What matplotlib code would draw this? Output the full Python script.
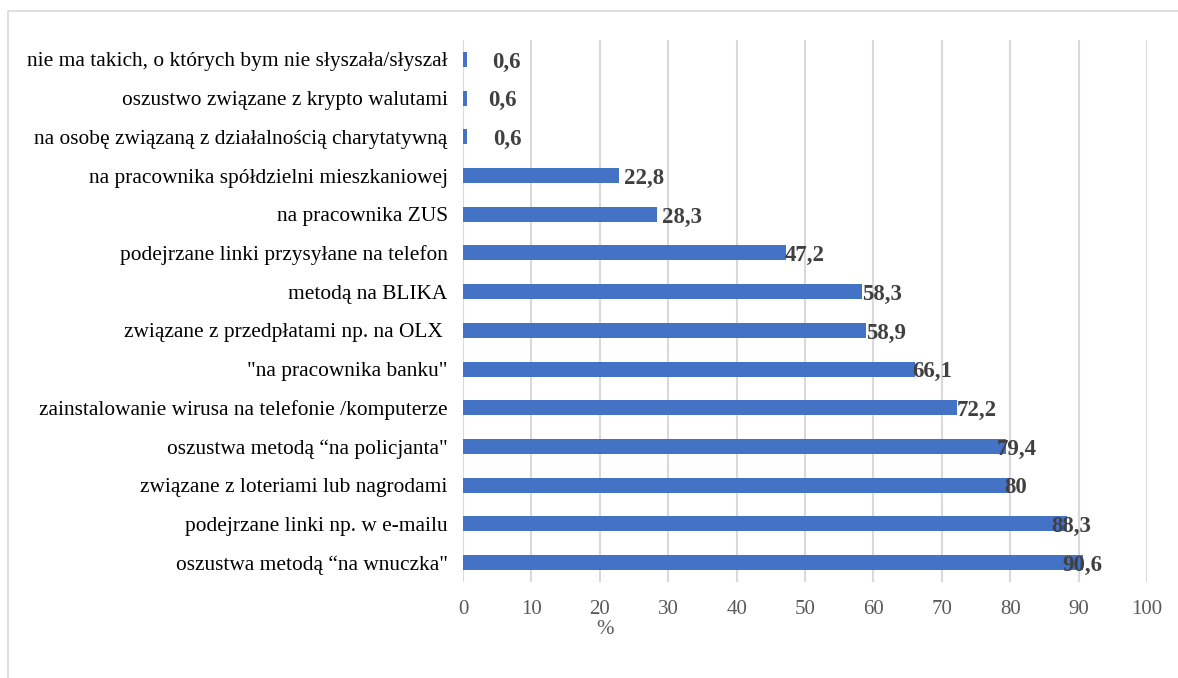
import matplotlib.pyplot as plt
from matplotlib.patches import Rectangle

plt.rcParams['font.family'] = ['Liberation Serif', 'DejaVu Serif']

# data, top to bottom as in the chart
categories = [
    "nie ma takich, o których bym nie słyszała/słyszał",
    "oszustwo związane z krypto walutami",
    "na osobę związaną z działalnością charytatywną",
    "na pracownika spółdzielni mieszkaniowej",
    "na pracownika ZUS",
    "podejrzane linki przysyłane na telefon",
    "metodą na BLIKA",
    "związane z przedpłatami np. na OLX ",
    "\"na pracownika banku\"",
    "zainstalowanie wirusa na telefonie /komputerze",
    "oszustwa metodą “na policjanta\"",
    "związane z loteriami lub nagrodami",
    "podejrzane linki np. w e-mailu",
    "oszustwa metodą “na wnuczka\"",
]
values = [0.6, 0.6, 0.6, 22.8, 28.3, 47.2, 58.3, 58.9, 66.1, 72.2, 79.4, 80, 88.3, 90.6]
value_labels = ["0,6", "0,6", "0,6", "22,8", "28,3", "47,2", "58,3", "58,9",
                "66,1", "72,2", "79,4", "80", "88,3", "90,6"]
# label shift from bar end, in points
label_dx = [18, 15, 19, 4, 4, -1, 0, 0, -2, 0, -7, -4, -11, -15]

fig = plt.figure(figsize=(11.78, 6.78), dpi=100)
ax = fig.add_axes([0.393, 0.1416, 0.5807, 0.7994])

ypos = list(range(len(categories)))
ax.barh(ypos, values, height=0.39, color="#4472C4", zorder=2)
ax.set_ylim(len(categories) - 0.5, -0.5)
ax.set_xlim(0, 100)
ax.set_xticks(range(0, 101, 10))
ax.set_yticks(ypos)
ax.set_yticklabels(categories, fontsize=15.4, color="black")
ax.tick_params(axis='x', labelsize=15, labelcolor="#595959", length=0, pad=13)
ax.tick_params(axis='y', length=0, pad=11)
ax.grid(axis='x', color="#d9d9d9", linewidth=1.5, zorder=0)
for s in ax.spines.values():
    s.set_visible(False)

for y, v, lab, dx in zip(ypos, values, value_labels, label_dx):
    ax.annotate(lab, (v, y), xytext=(dx, -2), textcoords='offset points',
                ha='left', va='center', fontsize=16.5, fontweight='bold',
                color="#404040", zorder=3)

fig.text(605 / 1178, 1 - 629 / 678, "%", ha='center', va='center',
         fontsize=15, color="#595959")

# outer chart frame
fig.patches.append(Rectangle((8 / 1178, -0.1), 1.2, 1 - 11 / 678 + 0.1,
                             transform=fig.transFigure, fill=False,
                             edgecolor="#d9d9d9", linewidth=1.2))

fig.savefig("out.png", dpi=100)
